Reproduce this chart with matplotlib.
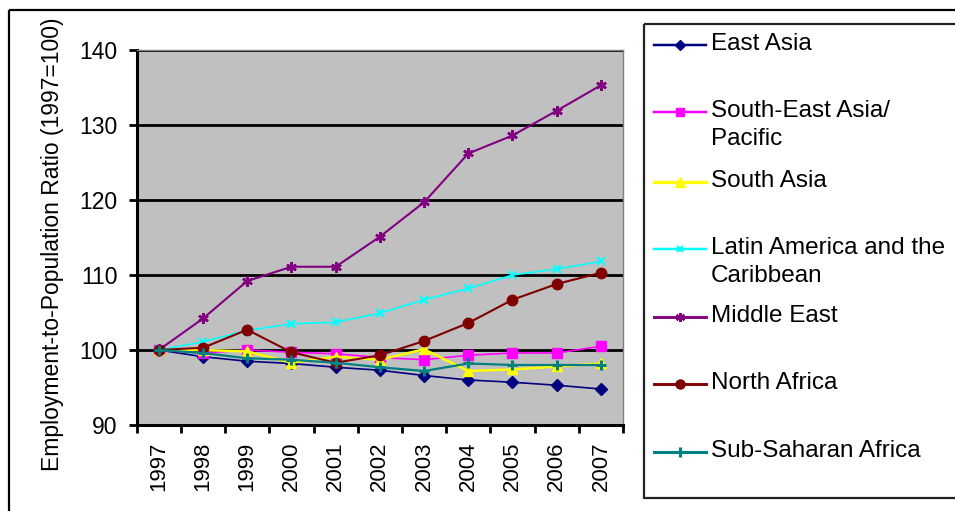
import numpy as np
import matplotlib.pyplot as plt
from matplotlib.patches import Rectangle
from matplotlib.ticker import FixedLocator

plt.rcParams['font.family'] = ['Liberation Sans', 'DejaVu Sans']

years = ['1997', '1998', '1999', '2000', '2001', '2002', '2003', '2004', '2005', '2006', '2007']

east_asia = [100, 99.1, 98.5, 98.2, 97.7, 97.3, 96.6, 96.0, 95.7, 95.3, 94.8]
se_asia = [100, 99.6, 100.0, 99.7, 99.5, 99.0, 98.7, 99.3, 99.6, 99.6, 100.5]
south_asia = [100, 100.0, 99.8, 98.3, 99.1, 98.7, 100.1, 97.2, 97.4, 97.8, 98.2]
latin_america = [100, 101.1, 102.6, 103.5, 103.7, 104.9, 106.7, 108.2, 110.0, 110.8, 111.8]
middle_east = [100, 104.2, 109.2, 111.1, 111.1, 115.1, 119.7, 126.2, 128.6, 131.9, 135.3]
north_africa = [100, 100.3, 102.7, 99.7, 98.3, 99.3, 101.2, 103.6, 106.7, 108.8, 110.3]
sub_saharan = [100, 99.6, 98.9, 98.7, 98.3, 97.7, 97.2, 98.2, 98.0, 98.0, 98.0]

labels = ['East Asia', 'South-East Asia/\nPacific', 'South Asia',
          'Latin America and the\nCaribbean', 'Middle East', 'North Africa',
          'Sub-Saharan Africa']
series = [east_asia, se_asia, south_asia, latin_america, middle_east, north_africa, sub_saharan]

# style per series: color, marker, markersize, linewidth, mew
styles = [
    ('#000080', 'D', 6.0, 1.2, 1.0),
    ('#FF00FF', 's', 7.0, 1.2, 1.0),
    ('#FFFF00', '^', 7.5, 1.8, 1.0),
    ('#00FFFF', 'x', 6.0, 1.2, 1.5),
    ('#800080', (6, 2, 0), 7.5, 1.5, 1.8),
    ('#800000', 'o', 7.5, 1.5, 1.0),
    ('#008080', '+', 7.5, 1.6, 2.2),
]

W, H = 955, 511
fig = plt.figure(figsize=(W / 100, H / 100), dpi=100)

ax = fig.add_axes([136.7 / W, 1 - 425 / H, (623 - 136.7) / W, (425 - 50) / H])
ax.set_facecolor('#C0C0C0')

x = np.arange(len(years))
for vals, (c, m, ms, lw, mew) in zip(series, styles):
    ax.plot(x, vals, color=c, marker=m, markersize=ms, linewidth=lw,
            markeredgewidth=mew, markeredgecolor=c, markerfacecolor=c, zorder=3)

ax.set_xlim(-0.5, len(years) - 0.5)
ax.set_ylim(90, 140)
ax.set_yticks(np.arange(90, 141, 10))
ax.yaxis.grid(True, color='black', linewidth=2)
ax.set_axisbelow(True)

ax.set_xticks(x)
ax.set_xticklabels(years, rotation=90, fontsize=16)
ax.xaxis.set_minor_locator(FixedLocator(np.arange(-0.5, len(years), 1)))
ax.tick_params(axis='x', which='major', length=0, pad=12)
ax.tick_params(axis='x', which='minor', length=6, width=2, direction='out')
ax.tick_params(axis='y', length=6, width=2, direction='out', pad=8, labelsize=16.5)

for s in ['left', 'bottom']:
    ax.spines[s].set_linewidth(2.2)
    ax.spines[s].set_color('black')
for s in ['top', 'right']:
    ax.spines[s].set_linewidth(1)
    ax.spines[s].set_color('#808080')

ax.set_ylabel('Employment-to-Population Ratio (1997=100)', fontsize=16.5, va='center')
ax.yaxis.set_label_coords(-0.174, 0.483)

# overlay in pixel coordinates for frame and legend
ov = fig.add_axes([0, 0, 1, 1])
ov.set_xlim(0, W)
ov.set_ylim(H, 0)
ov.axis('off')
ov.add_patch(Rectangle((9, 10), 1000, 600, fill=False, edgecolor='black', linewidth=1.6))
ov.add_patch(Rectangle((644, 24), 400, 474, fill=False, edgecolor='#222222', linewidth=1.6))

entry_y = [45, 112, 182, 249, 317, 384, 452]
for lab, ey, (c, m, ms, lw, mew) in zip(labels, entry_y, styles):
    ov.plot([653.5, 679.5, 706], [ey, ey, ey], color=c, linewidth=lw + 0.6,
            marker=m, markevery=[1], markersize=ms - 1, markeredgewidth=mew,
            markeredgecolor=c, markerfacecolor=c)
    ov.text(711, ey - 12, lab, fontsize=17.5, va='top', ha='left',
            linespacing=1.38, color='black')

fig.savefig('out.png', dpi=100)
